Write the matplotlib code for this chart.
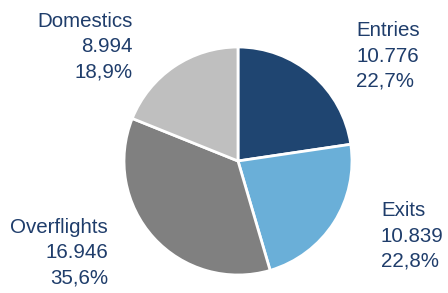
import matplotlib.pyplot as plt

labels = ['Entries', 'Exits', 'Overflights', 'Domestics']
values = [10776, 10839, 16946, 8994]
value_text = ['10.776', '10.839', '16.946', '8.994']
pct_text = ['22,7%', '22,8%', '35,6%', '18,9%']

colors = ['#1F4571', '#6AAFD8', '#808080', '#BFBFBF']
text_color = '#1F3D6B'

# label positions in pixels (x, y from top), alignment
label_pos = [(356, 56, 'left'), (381, 236, 'left'), (108, 253, 'right'), (133, 47, 'right')]

W, H = 448, 293
fig = plt.figure(figsize=(W / 100, H / 100), dpi=100)
ax = fig.add_axes([0, 0, 1, 1])

ax.pie(values, colors=colors, startangle=90, counterclock=False,
       center=(238, H - 161), radius=114,
       wedgeprops=dict(edgecolor='white', linewidth=2), frame=True)
ax.set_xlim(0, W)
ax.set_ylim(0, H)
ax.set_aspect('equal')
ax.axis('off')

for i, lab in enumerate(labels):
    x, y, ha = label_pos[i]
    ax.text(x, H - y, f'{lab}\n{value_text[i]}\n{pct_text[i]}', ha=ha, va='center',
            multialignment=ha, color=text_color, fontsize=14.8, linespacing=1.42,
            family=['Liberation Sans', 'DejaVu Sans'])

fig.savefig('out.png', dpi=100)
